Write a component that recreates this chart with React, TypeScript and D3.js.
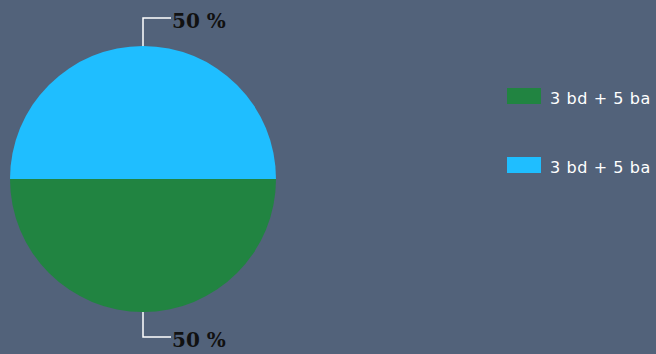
import React from "react";
import * as d3 from "d3";

const categories = ["3 bd + 5 ba", "3 bd + 5 ba"];
const values = [50, 50];
const colors = ["#218441", "#1fbeff"];

export default function App() {
  const W = 656, H = 354;
  const cx = 143, cy = 179, r = 133;
  const pie = d3.pie<number>().sort(null).startAngle(Math.PI / 2).endAngle(Math.PI / 2 + 2 * Math.PI);
  const arcs = pie(values);
  const arc = d3.arc<d3.PieArcDatum<number>>().innerRadius(0).outerRadius(r);
  const total = d3.sum(values);
  return (
    <svg width={W} height={H} style={{ position: "absolute", left: 0, top: 0, background: "#52627a" }}>
      <rect width={W} height={H} fill="#52627a" />
      <g transform={`translate(${cx},${cy})`}>
        {arcs.map((a, i) => (
          <path key={i} d={arc(a) || ""} fill={colors[i]} />
        ))}
        {arcs.map((a, i) => {
          const mid = (a.startAngle + a.endAngle) / 2;
          const x0 = Math.sin(mid) * r;
          const y0 = -Math.cos(mid) * r;
          const up = y0 < 0;
          const y1 = up ? y0 - 28 : y0 + 25;
          const x1 = x0 + 28;
          return (
            <g key={"l" + i}>
              <polyline points={`${x0},${y0} ${x0},${y1} ${x1},${y1}`} fill="none" stroke="#ffffff" strokeWidth={1.5} />
              <text x={x1 + 1} y={y1 + 10} fontFamily="DejaVu Serif" fontWeight="bold" fontSize={20} fill="#111111">
                {Math.round((values[i] / total) * 100)} %
              </text>
            </g>
          );
        })}
      </g>
      {categories.map((c, i) => (
        <g key={"lg" + i} transform={`translate(507,${88 + i * 69})`}>
          <rect width={34} height={16} fill={colors[i]} />
          <text x={43} y={16} fontFamily="DejaVu Sans" fontSize={16} letterSpacing={0.6} fill="#ffffff">{c}</text>
        </g>
      ))}
    </svg>
  );
}
